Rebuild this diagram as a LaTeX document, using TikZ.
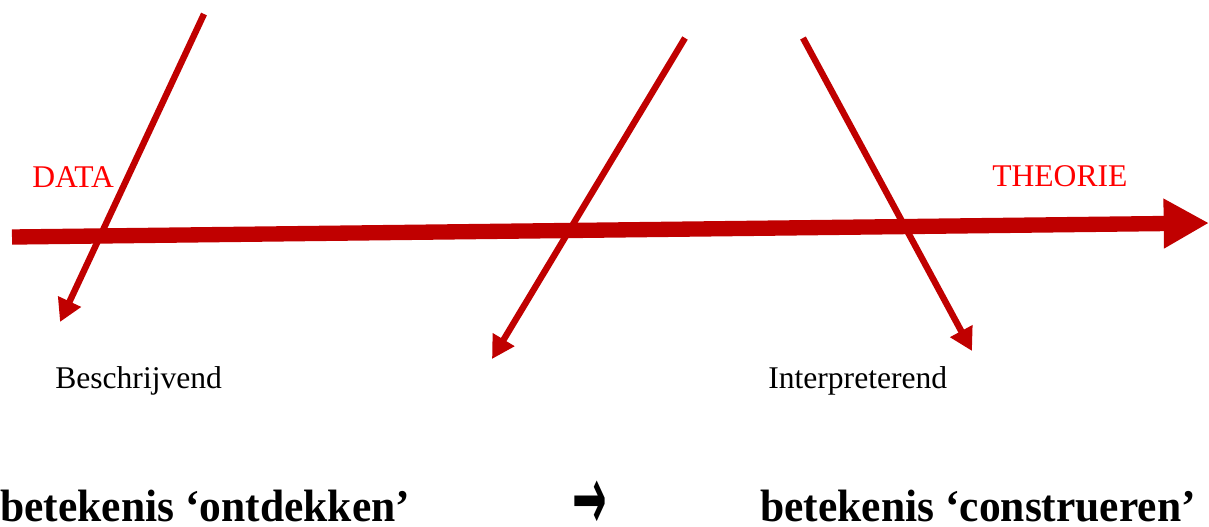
\documentclass[tikz,border=0pt]{standalone}
\usepackage{fontspec}
\setmainfont{Liberation Serif}
\newfontfamily\symfont{DejaVu Sans}
\usetikzlibrary{arrows.meta}
\definecolor{arrowred}{HTML}{C00000}
\definecolor{textred}{HTML}{FF0000}
\tikzset{
  mainarrow/.style={draw=arrowred, line width=11.5pt, -{Triangle[length=34pt,width=35pt]}},
  thinarrow/.style={draw=arrowred, line width=4.8pt, -{Triangle[length=17pt,width=18pt]}},
  redlabel/.style={text=textred, font=\fontsize{23.7}{26}\selectfont, inner sep=0pt, anchor=base west},
  blacklabel/.style={text=black, font=\fontsize{23.7}{26}\selectfont, inner sep=0pt, anchor=base west},
  boldlabel/.style={text=black, font=\bfseries\fontsize{34}{36}\selectfont, inner sep=0pt, text depth=0pt, anchor=base west, xscale=0.96}
}
\begin{document}
\begin{tikzpicture}[x=0.75pt, y=-0.75pt]
\useasboundingbox (0,0) rectangle (1209,526);
% main axis
\coordinate (mainstart) at (12,237);
\coordinate (mainend) at (1209,223);
\draw[mainarrow] (mainstart) -- (mainend);
% oblique arrows
\coordinate (a1s) at (204,14);
\coordinate (a1e) at (60,322);
\coordinate (a2s) at (685,38);
\coordinate (a2e) at (492,359);
\coordinate (a3s) at (803,38);
\coordinate (a3e) at (972,351);
\draw[thinarrow] (a1s) -- (a1e);
\draw[thinarrow] (a2s) -- (a2e);
\draw[thinarrow] (a3s) -- (a3e);
% labels
\node[redlabel] (data) at (32,187) {DATA};
\node[redlabel] (theorie) at (992,186) {THEORIE};
\node[blacklabel] (beschr) at (55,388) {Beschrijvend};
\node[blacklabel] (interp) at (768,388) {Interpreterend};
\node[boldlabel] (ontd) at (0,521) {betekenis ‘ontdekken’};
\node[boldlabel] (constr) at (760,521) {betekenis ‘construeren’};
\node[text=black, inner sep=0pt, anchor=base] (pijl) at (590,529) {\smash{\scalebox{0.62}[1.35]{\symfont\bfseries\fontsize{50}{52}\selectfont →}}};
\end{tikzpicture}
\end{document}
